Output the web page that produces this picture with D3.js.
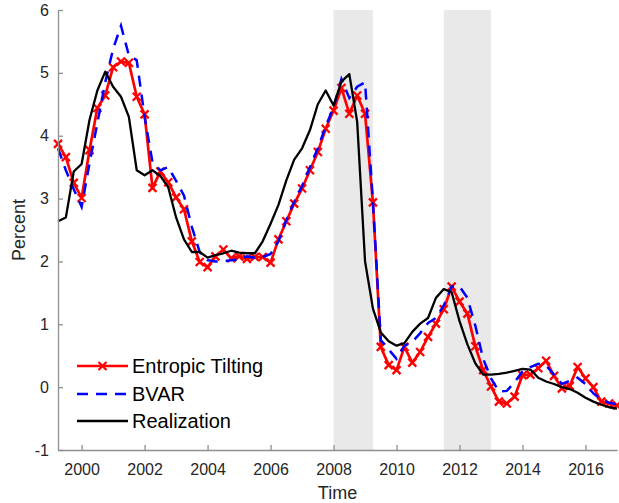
<!DOCTYPE html>
<html lang="en">
    <head>
        <meta charset="utf-8">
        <title>Entropic Tilting vs BVAR</title>
        <script src="https://cdn.jsdelivr.net/npm/d3@7"></script>
        <style>
            body { margin: 0; background: #fff; }
            svg text { font-family: "Liberation Sans", Arial, Helvetica, sans-serif; }
        </style>
    </head>
    <body>
        <div class="chart"></div>
        <script type="text/javascript">
            // quarterly dates, 1999Q2 .. 2017Q1
            var startYear = 1999.25;
            var nQuarters = 72;

            // Entropic Tilting (red, with x markers)
            var tilting = [
                3.87, 3.66, 3.25,
                3.01, 3.77, 4.44, 4.64,
                5.09, 5.18, 5.16, 4.62,
                4.34, 3.17, 3.43, 3.26,
                3.02, 2.83, 2.32, 1.99,
                1.91, 2.08, 2.19, 2.05,
                2.08, 2.04, 2.07, 2.07,
                1.98, 2.35, 2.64, 2.92,
                3.16, 3.45, 3.74, 4.11,
                4.40, 4.76, 4.35, 4.64,
                4.35, 2.94, 0.64, 0.35,
                0.27, 0.64, 0.39, 0.56,
                0.80, 1.01, 1.24, 1.60,
                1.36, 1.17, 0.65, 0.27,
                0.01, -0.23, -0.26, -0.15,
                0.19, 0.20, 0.30, 0.42,
                0.18, -0.02, 0.02, 0.32,
                0.14, 0.00, -0.23, -0.26,
                -0.29
            ];

            // BVAR (blue dashed)
            var bvar = [
                3.80, 3.45, 3.15,
                2.87, 3.56, 4.20, 4.85,
                5.38, 5.75, 5.28, 5.20,
                4.30, 3.58, 3.45, 3.50,
                3.28, 3.05, 2.55, 2.15,
                2.02, 2.00, 2.00, 2.02,
                2.03, 2.08, 2.06, 2.07,
                2.12, 2.32, 2.66, 2.95,
                3.20, 3.50, 3.80, 4.15,
                4.45, 4.90, 4.60, 4.78,
                4.85, 2.95, 0.75, 0.60,
                0.45, 0.66, 0.72, 0.86,
                1.02, 1.10, 1.30, 1.60,
                1.60, 1.42, 0.98, 0.45,
                0.14, -0.07, -0.06, 0.08,
                0.25, 0.32, 0.37, 0.34,
                0.20, 0.05, 0.10, 0.15,
                0.05, -0.10, -0.20, -0.25,
                -0.27
            ];

            // Realization (black)
            var realization = [
                2.64, 2.70, 3.43,
                3.55, 4.25, 4.72, 5.02,
                4.78, 4.62, 4.30, 3.45,
                3.37, 3.45, 3.36, 3.18,
                2.70, 2.35, 2.15, 2.15,
                2.06, 2.10, 2.13, 2.17,
                2.14, 2.13, 2.13, 2.32,
                2.60, 2.90, 3.29, 3.62,
                3.80, 4.09, 4.50, 4.72,
                4.48, 4.86, 4.98, 4.22,
                2.00, 1.25, 0.87, 0.73,
                0.66, 0.70, 0.88, 1.01,
                1.10, 1.42, 1.56, 1.51,
                1.05, 0.68, 0.38, 0.20,
                0.20, 0.21, 0.23, 0.26,
                0.29, 0.28, 0.15, 0.09,
                0.05, 0.00, -0.03, -0.09,
                -0.17, -0.23, -0.28, -0.32,
                -0.34
            ];

            // recession bands [start, end]
            var recessions = [[2008.0, 2009.25], [2011.5, 2013.0]];

            var xTicks = [2000, 2002, 2004, 2006, 2008, 2010, 2012, 2014, 2016];
            var yTicks = [-1, 0, 1, 2, 3, 4, 5, 6];
            var seriesNames = ["Entropic Tilting", "BVAR", "Realization"];

            var dates = d3.range(nQuarters).map(function(i) { return startYear + i * 0.25; });

            var w = 619, h = 503;
            var plotL = 58, plotR = 617, plotT = 10, plotB = 450;

            var svg = d3.select("div.chart").append("svg")
                .attr("width", w)
                .attr("height", h);

            var x = d3.scaleLinear().domain([1999.25, 2017]).range([plotL, plotR]);
            var y = d3.scaleLinear().domain([-1, 6]).range([plotB, plotT]);

            // shaded periods
            svg.selectAll("rect.rec")
                .data(recessions)
                .enter()
                .append("rect")
                .attr("class", "rec")
                .attr("x", function(d) { return x(d[0]); })
                .attr("width", function(d) { return x(d[1]) - x(d[0]); })
                .attr("y", y(6))
                .attr("height", y(-1) - y(6))
                .attr("fill", "#e9e9e9");

            var line = d3.line()
                .x(function(d) { return x(d[0]); })
                .y(function(d) { return y(d[1]); });

            function pairs(vals) {
                return vals.map(function(v, i) { return [dates[i], v]; });
            }

            // red line with x markers
            svg.append("path")
                .attr("d", line(pairs(tilting)))
                .attr("fill", "none")
                .attr("stroke", "#ff0000")
                .attr("stroke-width", 2.7)
                .attr("stroke-linejoin", "round");

            var cross = "M-4,-4L4,4M-4,4L4,-4";
            svg.selectAll("path.mark")
                .data(pairs(tilting))
                .enter()
                .append("path")
                .attr("class", "mark")
                .attr("transform", function(d) { return "translate(" + x(d[0]) + "," + y(d[1]) + ")"; })
                .attr("d", cross)
                .attr("stroke", "#ff0000")
                .attr("stroke-width", 2.3);

            // blue dashed
            svg.append("path")
                .attr("d", line(pairs(bvar)))
                .attr("fill", "none")
                .attr("stroke", "#0000ff")
                .attr("stroke-width", 2.5)
                .attr("stroke-dasharray", "11,8");

            // black
            svg.append("path")
                .attr("d", line(pairs(realization)))
                .attr("fill", "none")
                .attr("stroke", "#000000")
                .attr("stroke-width", 2.3)
                .attr("stroke-linejoin", "round");

            // axes (MATLAB style, ticks inward, no box)
            var fmt = function(d) { return String(d); };
            var xAxis = d3.axisBottom(x).tickValues(xTicks).tickFormat(fmt)
                .tickSizeInner(-5).tickSizeOuter(0).tickPadding(14);
            var yAxis = d3.axisLeft(y).tickValues(yTicks).tickFormat(fmt)
                .tickSizeInner(-5).tickSizeOuter(0).tickPadding(9);

            var gx = svg.append("g")
                .attr("transform", "translate(0," + plotB + ")")
                .call(xAxis);
            var gy = svg.append("g")
                .attr("transform", "translate(" + plotL + ",0)")
                .call(yAxis);

            [gx, gy].forEach(function(g) {
                g.select(".domain").attr("stroke", "#8f8f8f").attr("stroke-width", 1.3);
                g.selectAll(".tick line").attr("stroke", "#8f8f8f").attr("stroke-width", 1.3);
                g.selectAll(".tick text").attr("fill", "#262626").attr("font-size", 16)
                    .style("font-family", "'Liberation Sans', Arial, sans-serif");
            });

            // axis titles
            svg.append("text")
                .attr("x", (plotL + plotR) / 2)
                .attr("y", 499)
                .attr("text-anchor", "middle")
                .attr("font-size", 18)
                .attr("fill", "#262626")
                .text("Time");
            svg.append("text")
                .attr("transform", "translate(25," + ((plotT + plotB) / 2) + ") rotate(-90)")
                .attr("text-anchor", "middle")
                .attr("font-size", 18)
                .attr("fill", "#262626")
                .text("Percent");

            // legend
            var legY = [366, 394, 421];
            var lx0 = 77, lx1 = 128;
            var leg = svg.append("g");
            leg.append("line").attr("x1", lx0).attr("x2", lx1).attr("y1", legY[0]).attr("y2", legY[0])
                .attr("stroke", "#ff0000").attr("stroke-width", 2.7);
            leg.append("path").attr("transform", "translate(" + (lx0 + lx1) / 2 + "," + legY[0] + ")")
                .attr("d", cross).attr("stroke", "#ff0000").attr("stroke-width", 2.3);
            leg.append("line").attr("x1", lx0).attr("x2", lx1).attr("y1", legY[1]).attr("y2", legY[1])
                .attr("stroke", "#0000ff").attr("stroke-width", 2.5).attr("stroke-dasharray", "11,8");
            leg.append("line").attr("x1", lx0).attr("x2", lx1).attr("y1", legY[2]).attr("y2", legY[2])
                .attr("stroke", "#000000").attr("stroke-width", 2.3);
            leg.selectAll("text")
                .data(seriesNames)
                .enter()
                .append("text")
                .attr("x", 132)
                .attr("y", function(d, i) { return legY[i] + 7; })
                .attr("font-size", 20)
                .attr("fill", "#000")
                .text(function(d) { return d; });
        </script>
    </body>
</html>
